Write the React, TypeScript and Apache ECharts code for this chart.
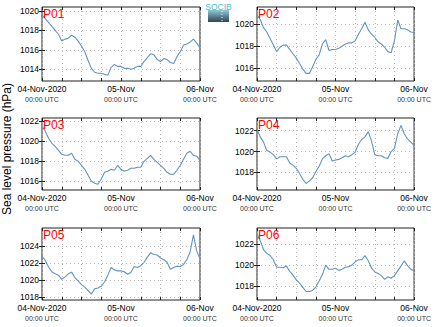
import React, { useEffect, useRef } from "react";
import * as echarts from "echarts";

const hours = [0,1,2,3,4,5,6,7,8,9,10,11,12,13,14,15,16,17,18,19,20,21,22,23,24,25,26,27,28,29,30,31,32,33,34,35,36,37,38,39,40,41,42,43,44,45,46,47,48];
const dayLabels = ["04-Nov-2020", "05-Nov", "06-Nov"];
const timeLabel = "00:00 UTC";
const panelNames = ["P01", "P02", "P03", "P04", "P05", "P06"];
const yTitle = "Sea level pressure (hPa)";
const logoText = "SOCIB";

const p01 = [1019.6,1019.2,1018.8,1018.4,1018.0,1017.6,1016.9,1017.1,1017.2,1017.5,1017.3,1016.9,1016.4,1015.8,1014.9,1014.1,1013.7,1013.6,1013.6,1013.5,1013.4,1014.2,1014.5,1014.3,1014.3,1014.1,1014.1,1014.0,1014.1,1014.3,1014.3,1014.8,1015.2,1015.6,1015.5,1015.0,1014.8,1015.1,1015.0,1014.7,1014.6,1015.3,1015.8,1016.5,1016.6,1016.8,1017.1,1016.7,1016.2];
const p02 = [1020.85,1020.45,1019.7,1019.3,1018.7,1018.1,1017.5,1017.9,1018.1,1018.1,1017.7,1017.3,1016.9,1016.4,1015.9,1015.5,1015.5,1016.1,1016.8,1017.2,1018.2,1018.6,1017.6,1017.7,1017.7,1017.8,1018.0,1018.2,1018.3,1018.3,1018.5,1019.1,1019.6,1020.2,1019.5,1019.1,1018.8,1018.4,1018.2,1017.9,1017.5,1017.4,1018.5,1020.4,1019.6,1019.6,1019.5,1019.3,1019.25];
const p03 = [1021.5,1021.0,1020.3,1019.8,1019.5,1019.1,1018.7,1018.6,1018.6,1018.8,1018.2,1018.0,1017.6,1017.2,1016.6,1016.0,1015.8,1015.7,1016.2,1016.9,1017.0,1017.2,1017.1,1017.6,1017.2,1017.0,1017.1,1017.3,1017.3,1017.4,1017.4,1018.0,1018.3,1018.6,1018.2,1017.9,1017.6,1017.3,1016.9,1016.7,1016.7,1017.1,1017.6,1018.2,1018.8,1019.0,1018.6,1018.5,1018.1];
const p04 = [1022.1,1021.4,1020.9,1020.1,1019.95,1019.7,1019.3,1019.5,1019.5,1019.5,1018.9,1018.7,1018.4,1017.9,1017.35,1016.95,1017.2,1017.5,1018.1,1018.6,1019.3,1019.6,1019.8,1019.1,1019.2,1019.25,1019.4,1019.6,1019.5,1019.7,1019.95,1020.7,1021.15,1021.4,1021.9,1021.0,1019.7,1019.6,1019.6,1019.4,1019.35,1020.0,1020.3,1021.7,1022.5,1021.7,1021.2,1020.9,1020.6];
const p05 = [1022.8,1022.3,1021.55,1021.0,1020.75,1020.6,1020.1,1020.4,1020.75,1020.95,1020.3,1019.9,1019.5,1019.2,1018.8,1018.4,1019.0,1019.1,1019.3,1019.8,1020.6,1021.5,1021.2,1021.1,1021.1,1021.0,1020.7,1020.9,1021.6,1021.5,1021.7,1022.1,1022.7,1023.2,1023.0,1022.95,1022.6,1022.4,1022.1,1021.3,1021.5,1021.65,1021.6,1021.85,1022.4,1023.3,1025.3,1023.4,1022.55];
const p06 = [1022.9,1022.3,1021.45,1021.1,1020.9,1020.5,1019.8,1019.8,1019.75,1019.9,1019.4,1019.05,1018.6,1018.3,1017.9,1017.5,1017.5,1017.6,1017.95,1018.5,1019.1,1020.0,1019.6,1019.6,1019.7,1019.5,1019.6,1019.8,1019.85,1020.0,1020.3,1020.5,1020.5,1020.9,1020.4,1019.7,1019.35,1019.2,1019.0,1018.65,1018.9,1018.75,1019.0,1019.45,1019.9,1020.4,1019.95,1019.6,1019.45];
const seriesValues = [p01, p02, p03, p04, p05, p06];

const yMins = [1012.8, 1014.8, 1015.13, 1016.33, 1017.7, 1016.7];
const yMaxs = [1020.4, 1021.6, 1022.33, 1023.2, 1026.1, 1023.5];
const yTicks = [
  [1014, 1016, 1018, 1020],
  [1016, 1018, 1020],
  [1016, 1018, 1020, 1022],
  [1018, 1020, 1022],
  [1018, 1020, 1022, 1024],
  [1018, 1020, 1022],
];

const FONT = "Liberation Sans, Arial, Helvetica, sans-serif";
const LINE_COLOR = "#6194c4";
const lefts = [42, 257, 42, 257, 42, 257];
const tops = [7, 7, 118, 118, 228, 228];
const heights = [74, 74, 72, 72, 72, 72];
const W = 158;

export default function App() {
  const ref = useRef<HTMLDivElement>(null);
  useEffect(() => {
    document.body.style.margin = "0";
    if (!ref.current) return;
    const chart = echarts.init(ref.current, undefined, { renderer: "svg" });
    const idx = [0, 1, 2, 3, 4, 5];
    const grids = idx.map((i) => ({
      left: lefts[i], top: tops[i], width: W, height: heights[i],
      show: true, borderColor: "#222", borderWidth: 1, backgroundColor: "transparent",
    }));
    const splitStyle = { show: true, lineStyle: { color: "#b8b8b8", type: [1, 3] as any, width: 1 } };
    const tickStyle = { show: true, inside: true, length: 3, lineStyle: { color: "#222" } };
    const xBottom = idx.map((i) => ({
      type: "value", gridIndex: i, min: 0, max: 48, interval: 6, position: "bottom",
      axisLine: { show: false }, axisTick: tickStyle, splitLine: splitStyle,
      axisLabel: {
        show: true, margin: 3, showMinLabel: true, showMaxLabel: true, hideOverlap: false,
        color: "#000", fontFamily: FONT,
        formatter: (v: number) => (v % 24 === 0 ? `{a|${dayLabels[v / 24]}}\n{b|${timeLabel}}` : ""),
        rich: {
          a: { fontSize: 8.5, color: "#000", lineHeight: 10, fontFamily: FONT },
          b: { fontSize: 7, color: "#333", lineHeight: 10, fontFamily: FONT },
        },
      },
    }));
    const xTop = idx.map((i) => ({
      type: "value", gridIndex: i, min: 0, max: 48, interval: 6, position: "top",
      axisLine: { show: false }, axisTick: tickStyle, splitLine: { show: false }, axisLabel: { show: false },
    }));
    const yLeft = idx.map((i) => ({
      type: "value", gridIndex: i, min: yMins[i], max: yMaxs[i], position: "left",
      axisLine: { show: false },
      axisTick: { ...tickStyle, customValues: yTicks[i] },
      splitLine: splitStyle,
      axisLabel: {
        show: true, customValues: yTicks[i], margin: 3, fontSize: 8.5, color: "#000", fontFamily: FONT,
        formatter: (v: number) => String(Math.round(v)),
      },
    }));
    const yRight = idx.map((i) => ({
      type: "value", gridIndex: i, min: yMins[i], max: yMaxs[i], position: "right",
      axisLine: { show: false },
      axisTick: { ...tickStyle, customValues: yTicks[i] },
      splitLine: { show: false }, axisLabel: { show: false },
    }));
    const series = idx.map((i) => ({
      type: "line", xAxisIndex: i, yAxisIndex: i, showSymbol: false, silent: true,
      data: hours.map((h, k) => [h, seriesValues[i][k]]),
      lineStyle: { color: LINE_COLOR, width: 1.1 },
    }));
    const graphics: any[] = idx.map((i) => ({
      type: "text", x: lefts[i] + 1, y: tops[i] + 0.5, z: 10,
      style: { text: panelNames[i], fill: "#ff0000", fontSize: 12, fontFamily: FONT, verticalAlign: "top" },
    }));
    graphics.push({
      type: "text", x: 7, y: 149, rotation: Math.PI / 2,
      style: { text: yTitle, fill: "#000", fontSize: 12, fontFamily: FONT, align: "center", verticalAlign: "middle" },
    });
    graphics.push({
      type: "rect", shape: { x: 208, y: 10, width: 21, height: 12 },
      style: {
        fill: new echarts.graphic.LinearGradient(0, 0, 0, 1, [
          { offset: 0, color: "#8fcad6" },
          { offset: 0.5, color: "#5d8597" },
          { offset: 1, color: "#34434f" },
        ]),
      },
    });
    graphics.push({
      type: "line", shape: { x1: 222, y1: 11, x2: 222, y2: 21 },
      style: { stroke: "#ffffff", lineWidth: 1, lineDash: [1, 2] },
    });
    graphics.push({
      type: "text", x: 218.5, y: 2,
      style: { text: logoText, fill: "#3fc0d2", fontSize: 8.5, fontFamily: FONT, align: "center", verticalAlign: "top" },
    });
    chart.setOption({
      animation: false,
      backgroundColor: "#ffffff",
      grid: grids,
      xAxis: [...xBottom, ...xTop],
      yAxis: [...yLeft, ...yRight],
      series,
      graphic: graphics,
    });
    return () => chart.dispose();
  }, []);
  return <div ref={ref} style={{ position: "absolute", left: 0, top: 0, width: 434, height: 327 }} />;
}
